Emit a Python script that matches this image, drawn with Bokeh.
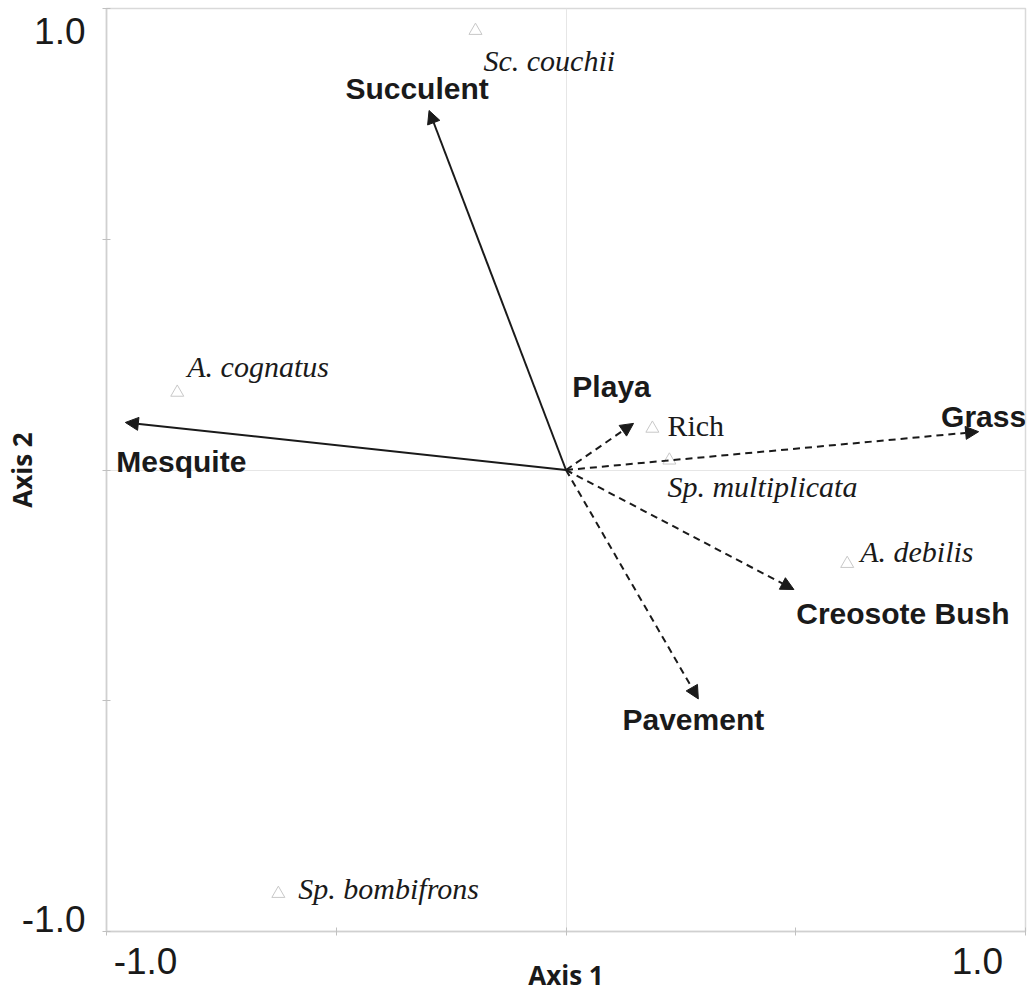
from bokeh.plotting import figure
from bokeh.models import ColumnDataSource, Arrow, NormalHead, FixedTicker, Range1d
from bokeh.core.properties import value
from bokeh.embed import file_html
from bokeh.resources import INLINE

# ---- data (ordination scores) ----
env_names = ["Succulent", "Mesquite", "Playa", "Grass", "Creosote Bush", "Pavement"]
env_axis1 = [-0.298, -0.959, 0.147, 0.898, 0.496, 0.288]
env_axis2 = [0.779, 0.103, 0.101, 0.083, -0.259, -0.496]
env_dashed = [False, False, True, True, True, True]

species_names = ["Sc. couchii", "A.  cognatus", "Rich", "Sp. multiplicata", "A.  debilis", "Sp. bombifrons"]
species_axis1 = [-0.197, -0.846, 0.188, 0.225, 0.612, -0.626]
species_axis2 = [0.952, 0.168, 0.090, 0.021, -0.203, -0.918]

tick_values = [-1.0, -0.5, 0.0, 0.5, 1.0]
tick_texts = ["-1.0", "1.0"]

# ---- label placement (style only) ----
# the original prints its end labels nudged inwards from the ends of the axes
x_label_at = [-0.915, 0.8955]
y_label_at = [-0.972, 0.952]
env_dx = [-12, 56, -22, 5, 109, -5]
env_dy = [-22, 39, -37, -15, 24, 21]
sp_dx = [8, 10, 15, -2, 13, 20]
sp_dy = [30, -26, -3, 26, -12, -5]
sp_style = ["italic", "italic", "normal", "italic", "italic", "italic"]

INK = "#1a1a1a"

p = figure(width=1028, height=996, x_range=Range1d(-1, 1), y_range=Range1d(-1, 1),
           output_backend="svg", toolbar_location=None,
           min_border_left=106, min_border_right=3, min_border_top=8, min_border_bottom=65)
p.outline_line_color = "#d9d9d9"
p.outline_line_width = 1.5
p.background_fill_color = "white"

p.xaxis.ticker = FixedTicker(ticks=x_label_at, minor_ticks=tick_values)
p.xaxis.major_label_overrides = dict(zip(x_label_at, tick_texts))
p.yaxis.ticker = FixedTicker(ticks=y_label_at, minor_ticks=tick_values)
p.yaxis.major_label_overrides = dict(zip(y_label_at, tick_texts))

for ax in (p.xaxis, p.yaxis):
    ax.axis_line_color = "#d0d0d0"
    ax.axis_line_width = 1.5
    ax.major_tick_line_color = None
    ax.major_tick_in = 0
    ax.major_tick_out = 0
    ax.minor_tick_line_color = "#c0c0c0"
    ax.minor_tick_line_width = 1
    ax.minor_tick_in = 4
    ax.minor_tick_out = 4
    ax.major_label_text_font = "Liberation Sans"
    ax.major_label_text_font_size = "37px"
    ax.major_label_text_color = INK
    ax.axis_label_text_font = "Open Sans"
    ax.axis_label_text_font_style = "bold"
    ax.axis_label_text_font_size = "26px"
    ax.axis_label_text_color = INK

p.xaxis.major_label_standoff = 12
p.yaxis.major_label_standoff = 17
p.xaxis.axis_label = "Axis 1"
p.yaxis.axis_label = "Axis 2"
p.xaxis.axis_label_standoff = -20
p.yaxis.axis_label_standoff = -21

p.xgrid.ticker = FixedTicker(ticks=[0])
p.ygrid.ticker = FixedTicker(ticks=[0])
p.xgrid.grid_line_color = "#e6e6e6"
p.ygrid.grid_line_color = "#e6e6e6"

# environmental arrows
for i in range(len(env_names)):
    head = NormalHead(size=13, fill_color=INK, line_color=INK, line_width=1)
    p.add_layout(Arrow(end=head, x_start=0, y_start=0, x_end=env_axis1[i], y_end=env_axis2[i],
                       line_color=INK, line_width=2,
                       line_dash="7 5" if env_dashed[i] else "solid"))

env_src = ColumnDataSource(dict(x=env_axis1, y=env_axis2, name=env_names, dx=env_dx, dy=env_dy))
p.text(x="x", y="y", text="name", x_offset="dx", y_offset="dy", source=env_src,
       text_font=value("Liberation Sans"), text_font_style="bold", text_font_size="30px",
       text_align="center", text_baseline="middle", text_color=INK)

# species points
sp_src = ColumnDataSource(dict(x=species_axis1, y=species_axis2, name=species_names,
                               dx=sp_dx, dy=sp_dy, style=sp_style))
p.scatter(x="x", y="y", source=sp_src, marker="triangle", size=13,
          fill_color=None, line_color="#c8c8c8", line_width=1)
p.text(x="x", y="y", text="name", x_offset="dx", y_offset="dy", source=sp_src,
       text_font=value("Liberation Serif"), text_font_style="style", text_font_size="30px",
       text_align="left", text_baseline="middle", text_color=INK)

open("out.html", "w").write(file_html(p, INLINE))
